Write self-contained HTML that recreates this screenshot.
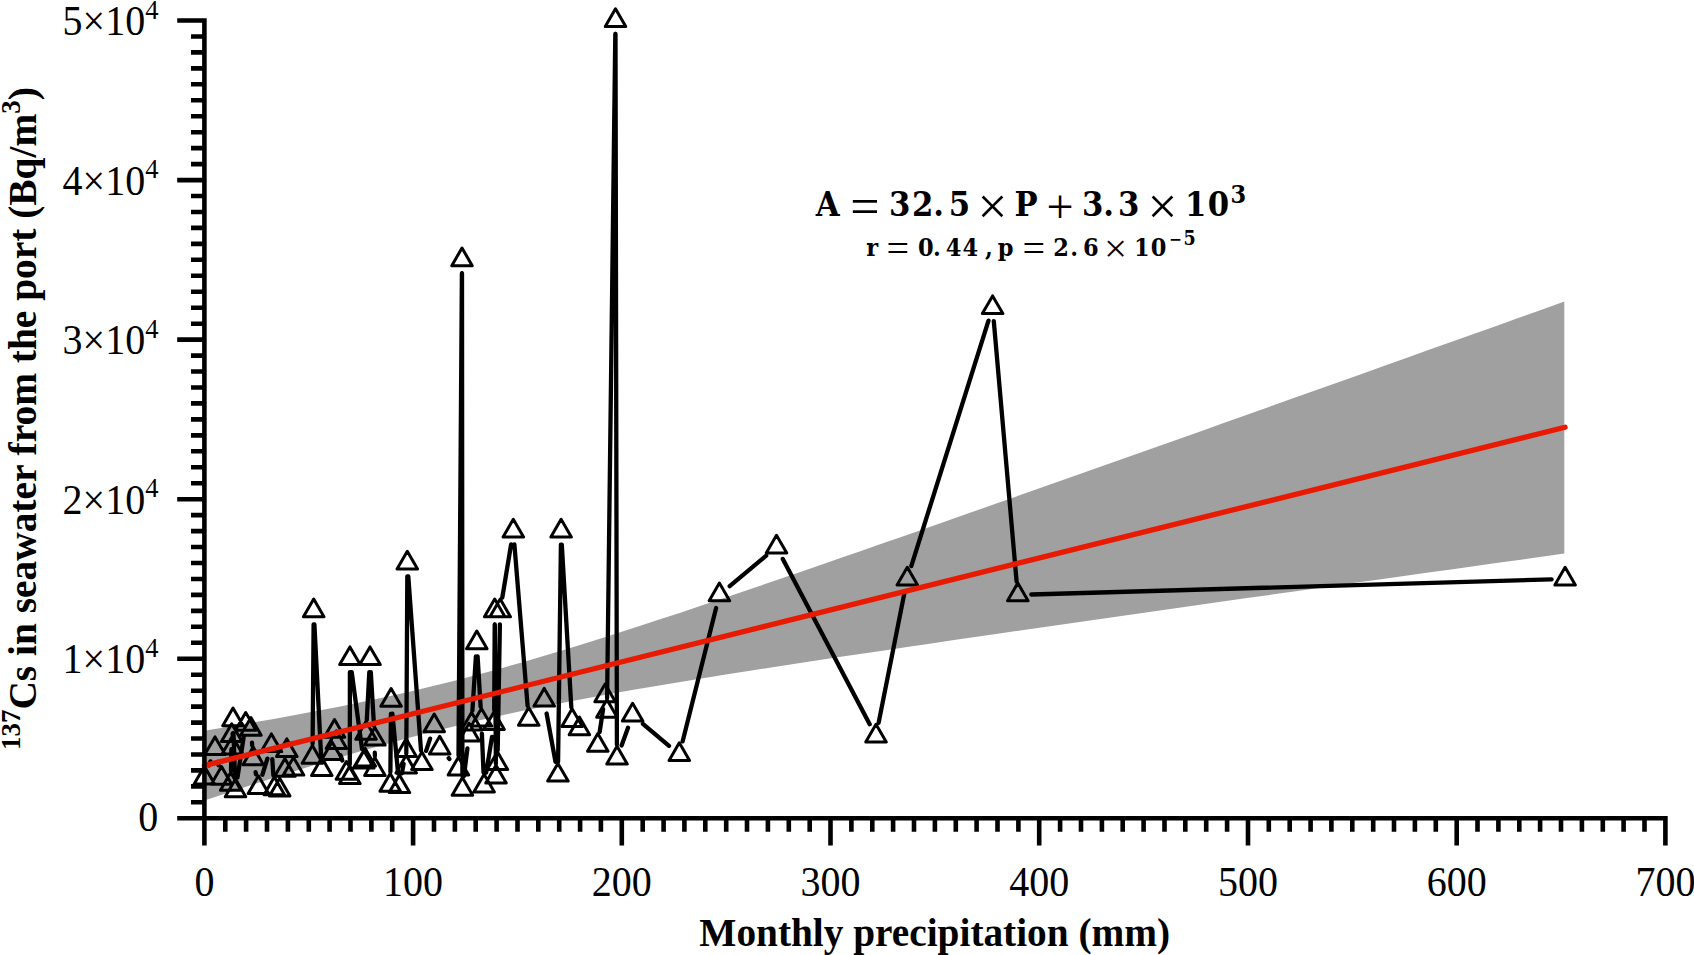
<!DOCTYPE html>
<html><head><meta charset="utf-8"><title>Cs-137 vs precipitation</title>
<style>html,body{margin:0;padding:0;background:#fff}svg{display:block}</style></head>
<body><svg width="1694" height="955" viewBox="0 0 1694 955">
<rect width="1694" height="955" fill="#fff"/>
<polygon points="204.4,730.8 227.1,727.0 249.7,723.1 272.4,719.2 295.1,715.1 317.7,710.8 340.4,706.4 363.1,701.8 385.7,697.0 408.4,691.9 431.0,686.5 453.7,680.9 476.4,675.0 499.0,668.9 521.7,662.5 544.4,655.8 567.0,649.0 589.7,642.0 612.4,634.8 635.0,627.5 657.7,620.1 680.4,612.7 703.0,605.1 725.7,597.5 748.4,589.8 771.0,582.0 793.7,574.3 816.3,566.4 839.0,558.6 861.7,550.7 884.3,542.8 907.0,534.9 929.7,527.0 952.3,519.0 975.0,511.1 997.7,503.1 1020.3,495.1 1043.0,487.1 1065.7,479.1 1088.3,471.1 1111.0,463.0 1133.6,455.0 1156.3,447.0 1179.0,438.9 1201.6,430.9 1224.3,422.8 1247.0,414.7 1269.6,406.7 1292.3,398.6 1315.0,390.5 1337.6,382.5 1360.3,374.4 1383.0,366.3 1405.6,358.2 1428.3,350.1 1451.0,342.0 1473.6,333.9 1496.3,325.9 1518.9,317.8 1541.6,309.7 1564.3,301.6 1564.3,553.5 1541.6,556.7 1518.9,559.9 1496.3,563.0 1473.6,566.2 1451.0,569.4 1428.3,572.6 1405.6,575.7 1383.0,578.9 1360.3,582.1 1337.6,585.3 1315.0,588.5 1292.3,591.7 1269.6,594.9 1247.0,598.1 1224.3,601.3 1201.6,604.5 1179.0,607.8 1156.3,611.0 1133.6,614.2 1111.0,617.4 1088.3,620.7 1065.7,623.9 1043.0,627.2 1020.3,630.5 997.7,633.8 975.0,637.0 952.3,640.3 929.7,643.7 907.0,647.0 884.3,650.4 861.7,653.7 839.0,657.1 816.3,660.6 793.7,664.0 771.0,667.5 748.4,671.0 725.7,674.6 703.0,678.3 680.4,682.0 657.7,685.7 635.0,689.6 612.4,693.6 589.7,697.7 567.0,702.0 544.4,706.4 521.7,711.1 499.0,715.9 476.4,721.0 453.7,726.4 431.0,732.0 408.4,738.0 385.7,744.2 363.1,750.6 340.4,757.3 317.7,764.1 295.1,771.1 272.4,778.3 249.7,785.6 227.1,793.0 204.4,800.5" fill="#a0a0a0"/>
<path d="M209.0 765.4L210.4 761.4M217.9 761.9L218.6 765.2M231.0 770.8L231.4 749.1M232.6 734.6L232.7 733.3M233.5 733.3L235.0 777.3M237.5 777.4L243.6 737.7M252.0 742.7L252.2 745.5M255.6 772.2L256.0 774.3M262.4 774.7L267.4 758.6M272.3 759.2L273.4 775.3M312.6 743.8L313.6 624.4M314.4 624.4L321.1 756.0M340.6 755.3L342.3 760.5M349.8 764.2L349.9 672.2M351.7 672.1L362.0 748.8M366.8 719.8L369.3 672.2M370.8 672.2L374.0 725.7M374.8 752.7L374.9 756.0M390.4 771.9L390.9 713.8M392.4 713.7L398.1 773.3M401.9 773.4L403.6 763.9M406.3 753.5L407.3 576.5M408.3 576.5L421.0 750.3M426.1 750.9L430.1 738.6M448.7 758.1L449.4 759.0M458.5 755.5L461.9 273.3M462.0 273.3L462.4 775.8M464.0 775.9L467.4 748.4M472.4 710.7L475.9 656.3M477.6 656.3L480.6 706.7M481.9 733.7L483.5 772.5M486.2 772.7L492.0 736.9M494.2 710.0L494.7 624.4M494.8 624.4L495.9 763.5M497.7 750.1L499.9 624.4M502.3 597.6L511.1 544.4M514.4 544.5L527.6 705.9M546.6 713.5L555.5 761.9M558.1 761.7L560.9 544.6M561.8 544.6L571.3 707.1M599.7 731.9L603.1 709.2M607.1 697.9L615.3 34.0M615.5 34.0L616.9 744.6M621.6 745.5L628.0 727.8M642.9 723.8L669.0 745.8M682.6 741.4L716.1 608.0M729.7 586.2L766.2 555.7M782.8 559.0L869.7 724.2M878.6 722.9L904.6 592.2M911.3 566.1L988.5 320.6M993.8 321.2L1016.6 581.5M1031.3 594.5L1551.6 579.4" stroke="#000" stroke-width="4.3" stroke-linecap="round" fill="none"/>
<path d="M204.4 766.3l10.25 17.7h-20.5zM215.0 736.9l10.25 17.7h-20.5zM221.5 766.6l10.25 17.7h-20.5zM230.7 772.5l10.25 17.7h-20.5zM231.7 723.8l10.25 17.7h-20.5zM232.3 736.3l10.25 17.7h-20.5zM233.0 708.1l10.25 17.7h-20.5zM235.5 779.0l10.25 17.7h-20.5zM245.7 712.5l10.25 17.7h-20.5zM250.9 717.5l10.25 17.7h-20.5zM253.2 747.1l10.25 17.7h-20.5zM258.4 775.8l10.25 17.7h-20.5zM271.4 733.9l10.25 17.7h-20.5zM274.3 777.0l10.25 17.7h-20.5zM279.7 778.2l10.25 17.7h-20.5zM284.9 758.6l10.25 17.7h-20.5zM286.8 738.9l10.25 17.7h-20.5zM293.5 757.4l10.25 17.7h-20.5zM312.4 745.5l10.25 17.7h-20.5zM313.7 599.1l10.25 17.7h-20.5zM321.8 757.7l10.25 17.7h-20.5zM332.0 741.9l10.25 17.7h-20.5zM334.5 719.5l10.25 17.7h-20.5zM336.4 730.7l10.25 17.7h-20.5zM346.4 761.5l10.25 17.7h-20.5zM349.8 765.9l10.25 17.7h-20.5zM349.9 646.9l10.25 17.7h-20.5zM363.7 750.4l10.25 17.7h-20.5zM365.2 748.4l10.25 17.7h-20.5zM366.0 721.5l10.25 17.7h-20.5zM370.0 646.9l10.25 17.7h-20.5zM374.8 727.4l10.25 17.7h-20.5zM374.9 757.7l10.25 17.7h-20.5zM390.2 773.6l10.25 17.7h-20.5zM391.1 688.5l10.25 17.7h-20.5zM399.4 774.9l10.25 17.7h-20.5zM406.1 738.8l10.25 17.7h-20.5zM406.2 755.2l10.25 17.7h-20.5zM407.3 551.2l10.25 17.7h-20.5zM421.9 751.9l10.25 17.7h-20.5zM434.2 714.0l10.25 17.7h-20.5zM439.7 736.3l10.25 17.7h-20.5zM458.4 757.2l10.25 17.7h-20.5zM462.0 248.0l10.25 17.7h-20.5zM462.4 777.5l10.25 17.7h-20.5zM469.1 723.2l10.25 17.7h-20.5zM471.6 712.4l10.25 17.7h-20.5zM476.8 631.0l10.25 17.7h-20.5zM481.4 708.4l10.25 17.7h-20.5zM484.1 774.2l10.25 17.7h-20.5zM494.1 711.7l10.25 17.7h-20.5zM494.7 599.1l10.25 17.7h-20.5zM496.0 765.2l10.25 17.7h-20.5zM497.4 751.8l10.25 17.7h-20.5zM500.2 599.1l10.25 17.7h-20.5zM513.3 519.3l10.25 17.7h-20.5zM528.7 707.6l10.25 17.7h-20.5zM544.2 688.4l10.25 17.7h-20.5zM557.9 763.4l10.25 17.7h-20.5zM561.1 519.3l10.25 17.7h-20.5zM572.1 708.8l10.25 17.7h-20.5zM579.4 717.0l10.25 17.7h-20.5zM597.8 733.5l10.25 17.7h-20.5zM605.1 684.0l10.25 17.7h-20.5zM606.9 699.6l10.25 17.7h-20.5zM615.5 8.7l10.25 17.7h-20.5zM617.0 746.3l10.25 17.7h-20.5zM632.6 703.3l10.25 17.7h-20.5zM679.3 742.7l10.25 17.7h-20.5zM719.4 583.1l10.25 17.7h-20.5zM776.5 535.2l10.25 17.7h-20.5zM876.0 724.3l10.25 17.7h-20.5zM907.3 567.2l10.25 17.7h-20.5zM992.6 295.9l10.25 17.7h-20.5zM1017.8 583.1l10.25 17.7h-20.5zM1565.1 567.2l10.25 17.7h-20.5z" stroke="#000" stroke-width="3" stroke-linejoin="round" fill="none"/>
<line x1="204.4" y1="765.6" x2="1565.1" y2="427.3" stroke="#e81a02" stroke-width="5.3" stroke-linecap="round"/>
<path d="M204.4 18.2V845.6M177.2 818.3H1667.7M225.3 818.3V831.7M246.1 818.3V831.7M267.0 818.3V831.7M287.9 818.3V831.7M308.8 818.3V831.7M329.6 818.3V831.7M350.5 818.3V831.7M371.4 818.3V831.7M392.2 818.3V831.7M413.1 818.3V845.6M434.0 818.3V831.7M454.9 818.3V831.7M475.7 818.3V831.7M496.6 818.3V831.7M517.5 818.3V831.7M538.3 818.3V831.7M559.2 818.3V831.7M580.1 818.3V831.7M600.9 818.3V831.7M621.8 818.3V845.6M642.7 818.3V831.7M663.6 818.3V831.7M684.4 818.3V831.7M705.3 818.3V831.7M726.2 818.3V831.7M747.0 818.3V831.7M767.9 818.3V831.7M788.8 818.3V831.7M809.7 818.3V831.7M830.5 818.3V845.6M851.4 818.3V831.7M872.3 818.3V831.7M893.1 818.3V831.7M914.0 818.3V831.7M934.9 818.3V831.7M955.8 818.3V831.7M976.6 818.3V831.7M997.5 818.3V831.7M1018.4 818.3V831.7M1039.2 818.3V845.6M1060.1 818.3V831.7M1081.0 818.3V831.7M1101.9 818.3V831.7M1122.7 818.3V831.7M1143.6 818.3V831.7M1164.5 818.3V831.7M1185.3 818.3V831.7M1206.2 818.3V831.7M1227.1 818.3V831.7M1248.0 818.3V845.6M1268.8 818.3V831.7M1289.7 818.3V831.7M1310.6 818.3V831.7M1331.4 818.3V831.7M1352.3 818.3V831.7M1373.2 818.3V831.7M1394.0 818.3V831.7M1414.9 818.3V831.7M1435.8 818.3V831.7M1456.7 818.3V845.6M1477.5 818.3V831.7M1498.4 818.3V831.7M1519.3 818.3V831.7M1540.1 818.3V831.7M1561.0 818.3V831.7M1581.9 818.3V831.7M1602.8 818.3V831.7M1623.6 818.3V831.7M1644.5 818.3V831.7M1665.4 818.3V845.6M191 802.3H204.4M191 786.4H204.4M191 770.4H204.4M191 754.5H204.4M191 738.5H204.4M191 722.6H204.4M191 706.6H204.4M191 690.7H204.4M191 674.7H204.4M177.2 658.7H204.4M191 642.8H204.4M191 626.8H204.4M191 610.9H204.4M191 594.9H204.4M191 579.0H204.4M191 563.0H204.4M191 547.0H204.4M191 531.1H204.4M191 515.1H204.4M177.2 499.2H204.4M191 483.2H204.4M191 467.3H204.4M191 451.3H204.4M191 435.4H204.4M191 419.4H204.4M191 403.4H204.4M191 387.5H204.4M191 371.5H204.4M191 355.6H204.4M177.2 339.6H204.4M191 323.7H204.4M191 307.7H204.4M191 291.8H204.4M191 275.8H204.4M191 259.8H204.4M191 243.9H204.4M191 227.9H204.4M191 212.0H204.4M191 196.0H204.4M177.2 180.1H204.4M191 164.1H204.4M191 148.1H204.4M191 132.2H204.4M191 116.2H204.4M191 100.3H204.4M191 84.3H204.4M191 68.4H204.4M191 52.4H204.4M191 36.5H204.4M177.2 20.5H204.4" stroke="#000" stroke-width="4.6" fill="none"/>
<g font-family="'Liberation Serif',serif" font-size="40" fill="#000"><text transform="translate(204.4,896) scale(1,1.04)" text-anchor="middle">0</text><text transform="translate(413.1,896) scale(1,1.04)" text-anchor="middle">100</text><text transform="translate(621.8,896) scale(1,1.04)" text-anchor="middle">200</text><text transform="translate(830.5,896) scale(1,1.04)" text-anchor="middle">300</text><text transform="translate(1039.2,896) scale(1,1.04)" text-anchor="middle">400</text><text transform="translate(1248.0,896) scale(1,1.04)" text-anchor="middle">500</text><text transform="translate(1456.7,896) scale(1,1.04)" text-anchor="middle">600</text><text transform="translate(1665.4,896) scale(1,1.04)" text-anchor="middle">700</text><text transform="translate(158.2,830.5) scale(1,1.04)" text-anchor="end">0</text><text transform="translate(158.4,673.4) scale(1,1.04)" text-anchor="end">1×10<tspan font-size="26.5" dy="-16">4</tspan></text><text transform="translate(158.4,513.9) scale(1,1.04)" text-anchor="end">2×10<tspan font-size="26.5" dy="-16">4</tspan></text><text transform="translate(158.4,354.3) scale(1,1.04)" text-anchor="end">3×10<tspan font-size="26.5" dy="-16">4</tspan></text><text transform="translate(158.4,194.8) scale(1,1.04)" text-anchor="end">4×10<tspan font-size="26.5" dy="-16">4</tspan></text><text transform="translate(158.4,35.2) scale(1,1.04)" text-anchor="end">5×10<tspan font-size="26.5" dy="-16">4</tspan></text></g>
<text x="934.7" y="946.2" text-anchor="middle" font-family="'Liberation Serif',serif" font-weight="bold" font-size="39.3">Monthly precipitation (mm)</text>
<text transform="translate(36.3,418.6) rotate(-90)" text-anchor="middle" font-family="'Liberation Serif',serif" font-weight="bold" font-size="39.4"><tspan font-size="27" dy="-16.5">137</tspan><tspan dy="16.5">Cs in seawater from the port (Bq/m</tspan><tspan font-size="27" dy="-16.5">3</tspan><tspan dy="16.5">)</tspan></text>
<text text-anchor="middle" font-family="'DejaVu Serif Condensed','DejaVu Serif',serif" font-weight="bold" font-size="34.2" fill="#000"><tspan x="827.7" y="216.2">A</tspan><tspan x="864.9" y="224.0" font-family="'Liberation Serif',serif" font-weight="normal" font-size="52">=</tspan><tspan x="899.8 922.8 938.7 959.4" y="216.2">32.5</tspan><tspan x="992.4" y="224.1" font-family="'Liberation Serif',serif" font-weight="normal" font-size="53">×</tspan><tspan x="1026.0" y="216.2">P</tspan><tspan x="1060.1" y="223.3" font-family="'Liberation Serif',serif" font-weight="normal" font-size="48">+</tspan><tspan x="1092.8 1108.7 1128.8" y="216.2">3.3</tspan><tspan x="1162.4" y="224.1" font-family="'Liberation Serif',serif" font-weight="normal" font-size="53">×</tspan><tspan x="1195.6 1218.4" y="216.2">10</tspan><tspan x="1238.4" y="202.7" font-size="25">3</tspan></text><text text-anchor="middle" font-family="'DejaVu Serif Condensed','DejaVu Serif',serif" font-weight="bold" font-size="25" fill="#000"><tspan x="872.2" y="255.8">r</tspan><tspan x="897.8" y="261.6" font-family="'Liberation Serif',serif" font-weight="normal" font-size="40">=</tspan><tspan x="925.8 936.8 953.7 970.4 988.8 1005.5" y="255.8">0.44,p</tspan><tspan x="1033.8" y="261.6" font-family="'Liberation Serif',serif" font-weight="normal" font-size="40">=</tspan><tspan x="1061.0 1074.1 1090.8" y="255.8">2.6</tspan><tspan x="1115.5" y="261.5" font-family="'Liberation Serif',serif" font-weight="normal" font-size="41">×</tspan><tspan x="1141.9 1158.7" y="255.8">10</tspan><tspan x="1175.6" y="244.9" font-size="17">−</tspan><tspan x="1189.6" y="244.9" font-size="19.5">5</tspan></text>
</svg></body></html>
